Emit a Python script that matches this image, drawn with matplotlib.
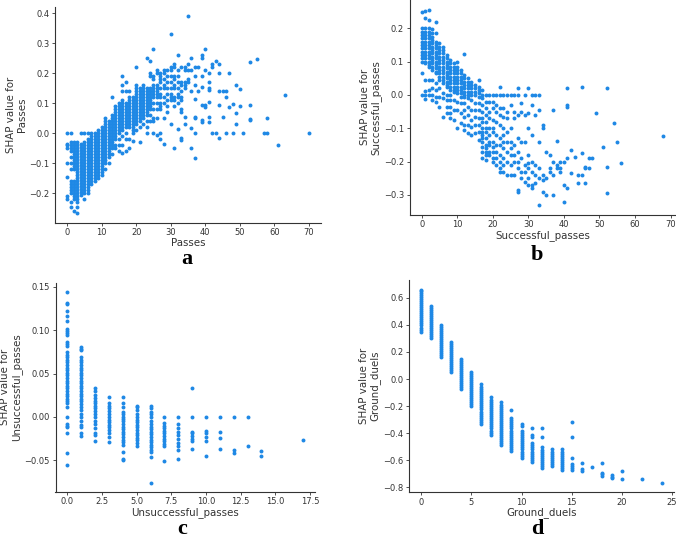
import numpy as np
import matplotlib
matplotlib.use("Agg")
import matplotlib.pyplot as plt

# ---------------- data ----------------
passes_x = [0, 1, 2, 3, 4, 5, 6, 7, 8, 9, 10, 11, 12, 13, 14, 15, 16, 17, 18, 19,
            20, 21, 22, 23, 24, 25, 26, 27, 28, 29, 30, 31, 32, 33, 34, 35, 36, 37,
            38, 39, 40, 41, 42, 43, 44, 45, 46, 47, 48, 49, 50, 51, 53, 55, 57, 58,
            61, 63, 70]
passes_shap = [
    [0.0, -0.035, -0.04, -0.05, -0.1, -0.145, -0.21, -0.22],
    [0.0, -0.03, -0.04, -0.05, -0.06, -0.08, -0.1, -0.12, -0.16, -0.17, -0.18, -0.19, -0.2, -0.23, -0.245],
    [-0.03, -0.04, -0.05, -0.06, -0.07, -0.08, -0.09, -0.1, -0.11, -0.12, -0.16, -0.17, -0.18, -0.19, -0.2, -0.21, -0.22, -0.26],
    [-0.03, -0.04, -0.05, -0.06, -0.07, -0.08, -0.09, -0.1, -0.11, -0.12, -0.13, -0.14, -0.15, -0.16, -0.17, -0.18, -0.19, -0.2, -0.21, -0.22, -0.23, -0.245, -0.265],
    [0.0, -0.035, -0.045, -0.055, -0.065, -0.075, -0.085, -0.095, -0.105, -0.115, -0.125, -0.135, -0.145, -0.155, -0.165, -0.175, -0.185, -0.195, -0.205],
    [0.0, -0.03, -0.04, -0.05, -0.06, -0.07, -0.08, -0.09, -0.1, -0.11, -0.12, -0.13, -0.14, -0.15, -0.16, -0.17, -0.18, -0.19, -0.2, -0.22],
    [0.0, -0.02, -0.03, -0.04, -0.05, -0.06, -0.07, -0.08, -0.09, -0.1, -0.11, -0.12, -0.13, -0.14, -0.15, -0.16, -0.17, -0.18, -0.19, -0.2],
    [0.0, -0.01, -0.02, -0.03, -0.04, -0.05, -0.06, -0.07, -0.08, -0.09, -0.1, -0.11, -0.12, -0.13, -0.14, -0.15, -0.16, -0.17],
    [0.0, -0.01, -0.02, -0.03, -0.04, -0.05, -0.06, -0.07, -0.08, -0.09, -0.1, -0.11, -0.12, -0.13, -0.14, -0.15, -0.16],
    [0.01, 0.0, -0.01, -0.02, -0.03, -0.04, -0.05, -0.06, -0.07, -0.08, -0.09, -0.1, -0.11, -0.12, -0.13, -0.14, -0.15],
    [0.02, 0.01, 0.0, -0.01, -0.02, -0.03, -0.04, -0.05, -0.06, -0.07, -0.08, -0.09, -0.1, -0.11, -0.12, -0.13, -0.14],
    [0.05, 0.04, 0.03, 0.02, 0.01, 0.0, -0.01, -0.02, -0.03, -0.04, -0.05, -0.06, -0.07, -0.08, -0.09, -0.1, -0.12],
    [0.04, 0.03, 0.02, 0.01, 0.0, -0.01, -0.02, -0.03, -0.04, -0.05, -0.06, -0.07, -0.08, -0.1],
    [0.12, 0.06, 0.05, 0.04, 0.03, 0.02, 0.01, 0.0, -0.01, -0.02, -0.03, -0.04, -0.05, -0.07],
    [0.09, 0.08, 0.07, 0.06, 0.05, 0.04, 0.03, 0.02, 0.01, 0.0, -0.01, -0.02, -0.04, -0.05],
    [0.1, 0.09, 0.08, 0.07, 0.06, 0.05, 0.04, 0.03, 0.02, 0.01, 0.0, -0.02, -0.04, -0.06],
    [0.19, 0.16, 0.14, 0.11, 0.1, 0.09, 0.08, 0.07, 0.06, 0.05, 0.04, 0.03, 0.02, 0.01, -0.01, -0.04, -0.065],
    [0.17, 0.14, 0.1, 0.09, 0.08, 0.07, 0.06, 0.05, 0.04, 0.03, 0.02, 0.0, -0.02, -0.06],
    [0.14, 0.12, 0.11, 0.1, 0.09, 0.08, 0.07, 0.06, 0.05, 0.04, 0.03, 0.02, -0.02, -0.05],
    [0.12, 0.11, 0.1, 0.09, 0.08, 0.07, 0.06, 0.05, 0.04, 0.03, 0.02, 0.01, 0.0, -0.025],
    [0.22, 0.16, 0.15, 0.14, 0.13, 0.12, 0.11, 0.1, 0.09, 0.08, 0.07, 0.06, 0.05, 0.04, 0.03, 0.01],
    [0.15, 0.14, 0.13, 0.12, 0.11, 0.1, 0.09, 0.08, 0.07, 0.06, 0.05, 0.04, 0.02, -0.03],
    [0.16, 0.15, 0.14, 0.13, 0.12, 0.11, 0.1, 0.09, 0.08, 0.07, 0.06, 0.05, 0.03],
    [0.25, 0.15, 0.14, 0.13, 0.12, 0.11, 0.1, 0.09, 0.08, 0.07, 0.06, 0.04, 0.02, 0.0],
    [0.24, 0.2, 0.19, 0.15, 0.14, 0.13, 0.12, 0.11, 0.1, 0.09, 0.08, 0.06, 0.04],
    [0.28, 0.19, 0.18, 0.16, 0.15, 0.14, 0.13, 0.12, 0.1, 0.08, 0.05, 0.04, 0.0],
    [0.21, 0.2, 0.16, 0.15, 0.14, 0.13, 0.12, 0.1, 0.08, 0.05, -0.005],
    [0.2, 0.19, 0.18, 0.17, 0.15, 0.13, 0.12, 0.1, 0.09, 0.08, 0.0, -0.02],
    [0.21, 0.2, 0.18, 0.16, 0.15, 0.12, 0.1, 0.05, -0.035],
    [0.21, 0.19, 0.17, 0.15, 0.13, 0.11, 0.09, 0.07],
    [0.33, 0.22, 0.21, 0.19, 0.17, 0.15, 0.13, 0.12, 0.11, 0.03],
    [0.23, 0.22, 0.19, 0.18, 0.16, 0.15, 0.12, 0.11, 0.09, -0.05],
    [0.26, 0.21, 0.19, 0.17, 0.15, 0.13, 0.12, 0.1, 0.014],
    [0.22, 0.17, 0.16, 0.14, 0.12, 0.11, 0.08, 0.07, -0.015, -0.022],
    [0.22, 0.21, 0.17, 0.16, 0.15, 0.054, 0.031],
    [0.39, 0.23, 0.21, 0.18, 0.17],
    [0.25, 0.21, 0.14, 0.017, -0.05],
    [0.22, 0.19, 0.16, 0.114, 0.055, 0.05, 0.0, -0.083],
    [0.22, 0.14],
    [0.26, 0.25, 0.19, 0.155, 0.094, 0.043, 0.037],
    [0.28, 0.21, 0.094, 0.089],
    [0.2, 0.17, 0.15, 0.144, 0.106, 0.054, 0.037],
    [0.23, 0.22, 0.0],
    [0.24, 0.0],
    [0.23, 0.2, 0.14, 0.094, -0.017],
    [0.14, 0.054],
    [0.14, 0.12, 0.0],
    [0.2, 0.087],
    [0.098, 0.0],
    [0.16, 0.067, 0.031],
    [0.148, 0.092],
    [0.0],
    [0.237, 0.094, 0.048, 0.043],
    [0.248],
    [0.0],
    [0.0, 0.05],
    [-0.039],
    [0.128],
    [0.0],
]

succ_x = [0, 1, 2, 3, 4, 5, 6, 7, 8, 9, 10, 11, 12, 13, 14, 15, 16, 17, 18, 19,
          20, 21, 22, 23, 24, 25, 26, 27, 28, 29, 30, 31, 32, 33, 34, 35, 36, 37,
          38, 39, 40, 41, 42, 43, 44, 45, 46, 47, 48, 49, 51, 52, 54, 55, 56, 68]
succ_shap = [
    [0.25, 0.2, 0.19, 0.18, 0.17, 0.16, 0.15, 0.14, 0.13, 0.12, 0.11, 0.1, 0.065, 0.0],
    [0.253, 0.23, 0.2, 0.19, 0.18, 0.17, 0.16, 0.15, 0.14, 0.13, 0.12, 0.11, 0.1, 0.095, 0.045, 0.013, 0.0, -0.013],
    [0.255, 0.225, 0.2, 0.19, 0.18, 0.17, 0.16, 0.15, 0.14, 0.13, 0.12, 0.11, 0.1, 0.09, 0.085, 0.045, 0.015, 0.0],
    [0.197, 0.185, 0.175, 0.165, 0.155, 0.145, 0.135, 0.125, 0.115, 0.105, 0.095, 0.085, 0.075, 0.045, 0.02, 0.0, -0.015],
    [0.22, 0.185, 0.16, 0.15, 0.14, 0.13, 0.12, 0.11, 0.1, 0.09, 0.08, 0.07, 0.065, 0.035, 0.015, -0.005, -0.02],
    [0.155, 0.145, 0.135, 0.125, 0.115, 0.105, 0.095, 0.085, 0.075, 0.065, 0.055, 0.045, 0.02, -0.005, -0.035],
    [0.145, 0.135, 0.125, 0.115, 0.105, 0.095, 0.085, 0.075, 0.065, 0.055, 0.045, 0.035, 0.005, -0.01, -0.065],
    [0.12, 0.11, 0.1, 0.09, 0.08, 0.07, 0.06, 0.05, 0.04, 0.03, 0.025, 0.0, -0.015, -0.035, -0.055],
    [0.105, 0.095, 0.085, 0.075, 0.065, 0.055, 0.045, 0.035, 0.025, 0.015, 0.0, -0.015, -0.035, -0.055, -0.07],
    [0.095, 0.085, 0.075, 0.065, 0.055, 0.045, 0.035, 0.025, 0.015, 0.01, -0.015, -0.045, -0.075],
    [0.1, 0.085, 0.075, 0.065, 0.055, 0.045, 0.035, 0.025, 0.015, 0.005, -0.02, -0.045, -0.1],
    [0.075, 0.065, 0.055, 0.045, 0.035, 0.025, 0.015, 0.005, -0.005, -0.025, -0.055, -0.085],
    [0.122, 0.06, 0.05, 0.04, 0.03, 0.02, 0.01, 0.0, -0.005, -0.025, -0.045, -0.065, -0.09, -0.105],
    [0.05, 0.04, 0.03, 0.02, 0.01, 0.0, -0.01, -0.035, -0.06, -0.09, -0.115],
    [0.04, 0.03, 0.02, 0.01, 0.0, -0.015, -0.045, -0.075, -0.095, -0.12],
    [0.03, 0.02, 0.01, 0.0, -0.025, -0.045, -0.065, -0.09, -0.115],
    [0.045, 0.025, 0.015, 0.005, -0.005, -0.025, -0.045, -0.07, -0.09, -0.11, -0.135],
    [0.015, 0.0, -0.01, -0.03, -0.05, -0.07, -0.08, -0.1, -0.11, -0.12, -0.13, -0.14, -0.155, -0.17, -0.19],
    [0.0, -0.02, -0.04, -0.06, -0.08, -0.1, -0.11, -0.13, -0.15, -0.16, -0.17, -0.18, -0.195],
    [0.0, -0.02, -0.05, -0.07, -0.1, -0.12, -0.14, -0.15, -0.17, -0.18],
    [0.0, -0.02, -0.04, -0.075, -0.1, -0.11, -0.14, -0.155, -0.17, -0.19, -0.2],
    [0.0, -0.03, -0.05, -0.08, -0.12, -0.15, -0.17, -0.19, -0.21],
    [0.025, 0.0, -0.04, -0.06, -0.09, -0.13, -0.15, -0.18, -0.2, -0.22, -0.23],
    [0.0, -0.04, -0.065, -0.1, -0.12, -0.14, -0.16, -0.19, -0.21, -0.23],
    [0.0, -0.05, -0.07, -0.11, -0.14, -0.17, -0.2, -0.24],
    [0.0, -0.03, -0.1, -0.14, -0.16, -0.18, -0.21, -0.24],
    [0.0, -0.05, -0.07, -0.15, -0.18, -0.2, -0.24],
    [0.02, 0.0, -0.06, -0.13, -0.17, -0.2, -0.22, -0.285, -0.29],
    [-0.025, -0.05, -0.14, -0.19, -0.23, -0.25],
    [0.0, -0.06, -0.14, -0.21, -0.23, -0.26],
    [0.02, -0.055, -0.1, -0.18, -0.205, -0.22, -0.25, -0.27],
    [0.0, -0.03, -0.12, -0.2, -0.23, -0.27, -0.28],
    [0.0, -0.06, -0.21, -0.24, -0.265],
    [0.0, -0.045, -0.14, -0.22, -0.25, -0.33],
    [-0.09, -0.1, -0.24, -0.255, -0.29],
    [-0.17, -0.25, -0.3],
    [-0.18, -0.22, -0.23],
    [-0.045, -0.2, -0.24, -0.3],
    [-0.137, -0.21, -0.22],
    [-0.2, -0.22, -0.23],
    [-0.2, -0.27, -0.32],
    [0.022, -0.03, -0.035, -0.19, -0.28],
    [-0.165, -0.235],
    [-0.185],
    [-0.24, -0.265],
    [0.025, -0.175, -0.24],
    [-0.215, -0.22, -0.265],
    [-0.19, -0.22],
    [-0.19],
    [-0.055],
    [-0.155],
    [0.022, -0.215, -0.295],
    [-0.085],
    [-0.14],
    [-0.205],
    [-0.124],
]

unsucc_x = [0, 1, 2, 3, 4, 5, 6, 7, 8, 9, 10, 11, 12, 13, 14, 17]
unsucc_shap = [
    [0.144, 0.132, 0.13, 0.122, 0.117, 0.111, 0.102, 0.099, 0.097, 0.095, 0.086, 0.084, 0.082, 0.075,
     0.072, 0.069, 0.066, 0.063, 0.06, 0.057, 0.054, 0.051, 0.048, 0.045, 0.042, 0.039, 0.036, 0.033,
     0.03, 0.027, 0.024, 0.021, 0.018, 0.016, 0.011, 0.0, -0.008, -0.01, -0.012, -0.019, -0.042, -0.055],
    [0.081, 0.079, 0.077, 0.069, 0.066, 0.063, 0.06, 0.057, 0.054, 0.051, 0.048, 0.045, 0.042, 0.039,
     0.036, 0.033, 0.03, 0.027, 0.024, 0.021, 0.018, 0.015, 0.012, 0.008, 0.004, 0.0, -0.005, -0.009,
     -0.011, -0.018, -0.022],
    [0.034, 0.03, 0.025, 0.022, 0.019, 0.016, 0.013, 0.01, 0.007, 0.004, 0.0, -0.005, -0.008, -0.013,
     -0.019, -0.021, -0.028],
    [0.023, 0.016, 0.013, 0.01, 0.007, 0.004, 0.0, -0.003, -0.006, -0.009, -0.012, -0.015, -0.019, -0.023, -0.029],
    [0.023, 0.016, 0.012, 0.006, 0.004, 0.0, -0.002, -0.005, -0.008, -0.011, -0.014, -0.017, -0.02,
     -0.023, -0.026, -0.029, -0.032, -0.04, -0.048, -0.05],
    [0.013, 0.011, 0.008, 0.004, 0.0, -0.003, -0.006, -0.009, -0.012, -0.015, -0.018, -0.021, -0.024,
     -0.027, -0.03, -0.034],
    [0.013, 0.01, 0.006, 0.004, 0.0, -0.005, -0.008, -0.011, -0.014, -0.017, -0.02, -0.023, -0.026,
     -0.029, -0.032, -0.035, -0.038, -0.04, -0.046, -0.076],
    [0.0, -0.007, -0.01, -0.013, -0.016, -0.019, -0.022, -0.025, -0.028, -0.031, -0.034, -0.051],
    [0.0, -0.008, -0.013, -0.017, -0.021, -0.025, -0.03, -0.034, -0.038, -0.048],
    [0.033, 0.0, -0.017, -0.019, -0.022, -0.025, -0.028, -0.037],
    [0.0, -0.016, -0.019, -0.023, -0.028, -0.045],
    [0.0, -0.017, -0.024, -0.037],
    [0.0, -0.038, -0.041],
    [0.0, -0.034],
    [-0.039, -0.045],
    [-0.027],
]

duels_x = [0, 1, 2, 3, 4, 5, 6, 7, 8, 9, 10, 11, 12, 13, 14, 15, 16, 17, 18, 19, 20, 22, 24]
duels_shap = [
    [0.35, 0.365, 0.38, 0.395, 0.41, 0.425, 0.44, 0.455, 0.47, 0.485, 0.5, 0.515, 0.53, 0.545, 0.56,
     0.575, 0.59, 0.605, 0.62, 0.635, 0.65, 0.66],
    [0.3, 0.315, 0.33, 0.345, 0.36, 0.375, 0.39, 0.405, 0.42, 0.435, 0.45, 0.465, 0.48, 0.495, 0.51, 0.525, 0.54],
    [0.16, 0.175, 0.19, 0.205, 0.22, 0.235, 0.25, 0.265, 0.28, 0.295, 0.31, 0.325, 0.34, 0.355, 0.37, 0.385, 0.4],
    [0.05, 0.065, 0.08, 0.095, 0.11, 0.125, 0.14, 0.155, 0.17, 0.185, 0.2, 0.215, 0.23, 0.245, 0.26, 0.27],
    [-0.075, -0.06, -0.045, -0.03, -0.015, 0.0, 0.015, 0.03, 0.045, 0.06, 0.075, 0.09, 0.105, 0.12, 0.135, 0.145],
    [-0.2, -0.185, -0.17, -0.155, -0.14, -0.125, -0.11, -0.095, -0.08, -0.065, -0.05, -0.035, -0.02,
     -0.005, 0.01, 0.025, 0.04, 0.05],
    [-0.33, -0.315, -0.3, -0.285, -0.27, -0.255, -0.24, -0.225, -0.21, -0.195, -0.18, -0.165, -0.15,
     -0.135, -0.12, -0.105, -0.09, -0.075, -0.06, -0.04],
    [-0.41, -0.395, -0.38, -0.365, -0.35, -0.335, -0.32, -0.305, -0.29, -0.275, -0.26, -0.245, -0.23,
     -0.215, -0.2, -0.185, -0.17, -0.155, -0.13],
    [-0.49, -0.475, -0.46, -0.445, -0.43, -0.415, -0.4, -0.385, -0.37, -0.355, -0.34, -0.325, -0.31,
     -0.295, -0.28, -0.265, -0.25, -0.235, -0.22, -0.205, -0.19, -0.17],
    [-0.53, -0.515, -0.5, -0.485, -0.47, -0.455, -0.44, -0.425, -0.41, -0.395, -0.38, -0.365, -0.35,
     -0.335, -0.32, -0.305, -0.29, -0.23],
    [-0.58, -0.565, -0.55, -0.535, -0.52, -0.505, -0.49, -0.475, -0.46, -0.445, -0.43, -0.415, -0.4,
     -0.385, -0.35, -0.33],
    [-0.61, -0.595, -0.58, -0.565, -0.55, -0.535, -0.52, -0.505, -0.49, -0.47, -0.43, -0.41, -0.36],
    [-0.66, -0.645, -0.63, -0.615, -0.6, -0.585, -0.57, -0.555, -0.54, -0.525, -0.5, -0.43, -0.36],
    [-0.64, -0.625, -0.61, -0.595, -0.58, -0.565, -0.55, -0.535, -0.52],
    [-0.67, -0.655, -0.64, -0.625, -0.61, -0.595, -0.58, -0.565, -0.55, -0.535, -0.52],
    [-0.675, -0.66, -0.645, -0.63, -0.58, -0.43, -0.32],
    [-0.68, -0.665, -0.62],
    [-0.65],
    [-0.715, -0.7, -0.69, -0.62],
    [-0.73, -0.72, -0.71],
    [-0.74, -0.68],
    [-0.74],
    [-0.77],
]

feature_names = ["Passes", "Successful_passes", "Unsuccessful_passes", "Ground_duels"]
panel_letters = ["a", "b", "c", "d"]

# ---------------- styling / layout ----------------
W, H = 676, 538
DOT = "#1E88E5"
AX = "#333333"

fig = plt.figure(figsize=(W / 100, H / 100), dpi=100)


def add_ax(l, r, t, b):
    return fig.add_axes([l / W, 1 - b / H, (r - l) / W, (b - t) / H])


def flatten(xs, ys):
    fx, fy = [], []
    for x, col in zip(xs, ys):
        fx.extend([x] * len(col))
        fy.extend(col)
    return np.array(fx, float), np.array(fy, float)


panels = [
    dict(box=(55, 321, 6.5, 222.7), xs=passes_x, ys=passes_shap, xlim=(-3.5, 73.5),
         ylim=(-0.298, 0.423), xt=np.arange(0, 71, 10), yt=[-0.2, -0.1, 0.0, 0.1, 0.2, 0.3, 0.4],
         xfmt="{:.0f}", yfmt="{:.1f}"),
    dict(box=(409.6, 675.5, 0.0, 214.5), xs=succ_x, ys=succ_shap, xlim=(-3.4, 71.4),
         ylim=(-0.359, 0.285), xt=np.arange(0, 71, 10), yt=[-0.3, -0.2, -0.1, 0.0, 0.1, 0.2],
         xfmt="{:.0f}", yfmt="{:.1f}"),
    dict(box=(55.5, 314.9, 283, 491.7), xs=unsucc_x, ys=unsucc_shap, xlim=(-0.85, 17.85),
         ylim=(-0.0862, 0.1546), xt=[0, 2.5, 5, 7.5, 10, 12.5, 15, 17.5], yt=[-0.05, 0.0, 0.05, 0.1, 0.15],
         xfmt="{:.1f}", yfmt="{:.2f}"),
    dict(box=(409.3, 673.8, 280, 492.3), xs=duels_x, ys=duels_shap, xlim=(-1.2, 25.2),
         ylim=(-0.836, 0.7306), xt=[0, 5, 10, 15, 20, 25], yt=[-0.8, -0.6, -0.4, -0.2, 0.0, 0.2, 0.4, 0.6],
         xfmt="{:.0f}", yfmt="{:.1f}"),
]

letter_pos = [(187, 264), (537, 260), (182, 534), (537, 534)]


def fmt(f, v):
    s = f.format(v)
    if s.startswith("-"):
        s = "\u2212" + s[1:]
    return s


for p, name, letter, (lx, ly) in zip(panels, feature_names, panel_letters, letter_pos):
    ax = add_ax(*p["box"])
    x, y = flatten(p["xs"], p["ys"])
    ax.scatter(x, y, s=8, color=DOT, linewidths=0, zorder=3)
    ax.set_xlim(*p["xlim"])
    ax.set_ylim(*p["ylim"])
    ax.set_xticks(p["xt"])
    ax.set_xticklabels([fmt(p["xfmt"], v) for v in p["xt"]])
    ax.set_yticks(p["yt"])
    ax.set_yticklabels([fmt(p["yfmt"], v) for v in p["yt"]])
    for side in ("top", "right"):
        ax.spines[side].set_visible(False)
    for side in ("left", "bottom"):
        ax.spines[side].set_color(AX)
        ax.spines[side].set_linewidth(0.8)
    ax.tick_params(color=AX, labelcolor=AX, labelsize=6, length=2.2, width=0.6, pad=1.8)
    ax.set_xlabel(name, color=AX, fontsize=7.4, labelpad=0.5)
    ax.set_ylabel("SHAP value for\n" + name, color=AX, fontsize=7.4, labelpad=2, linespacing=1.05)
    fig.text(lx / W, 1 - ly / H, letter, ha="center", va="baseline",
             fontsize=16, fontweight="bold", family="Liberation Serif", color="black")

fig.savefig("out.png", dpi=100)
